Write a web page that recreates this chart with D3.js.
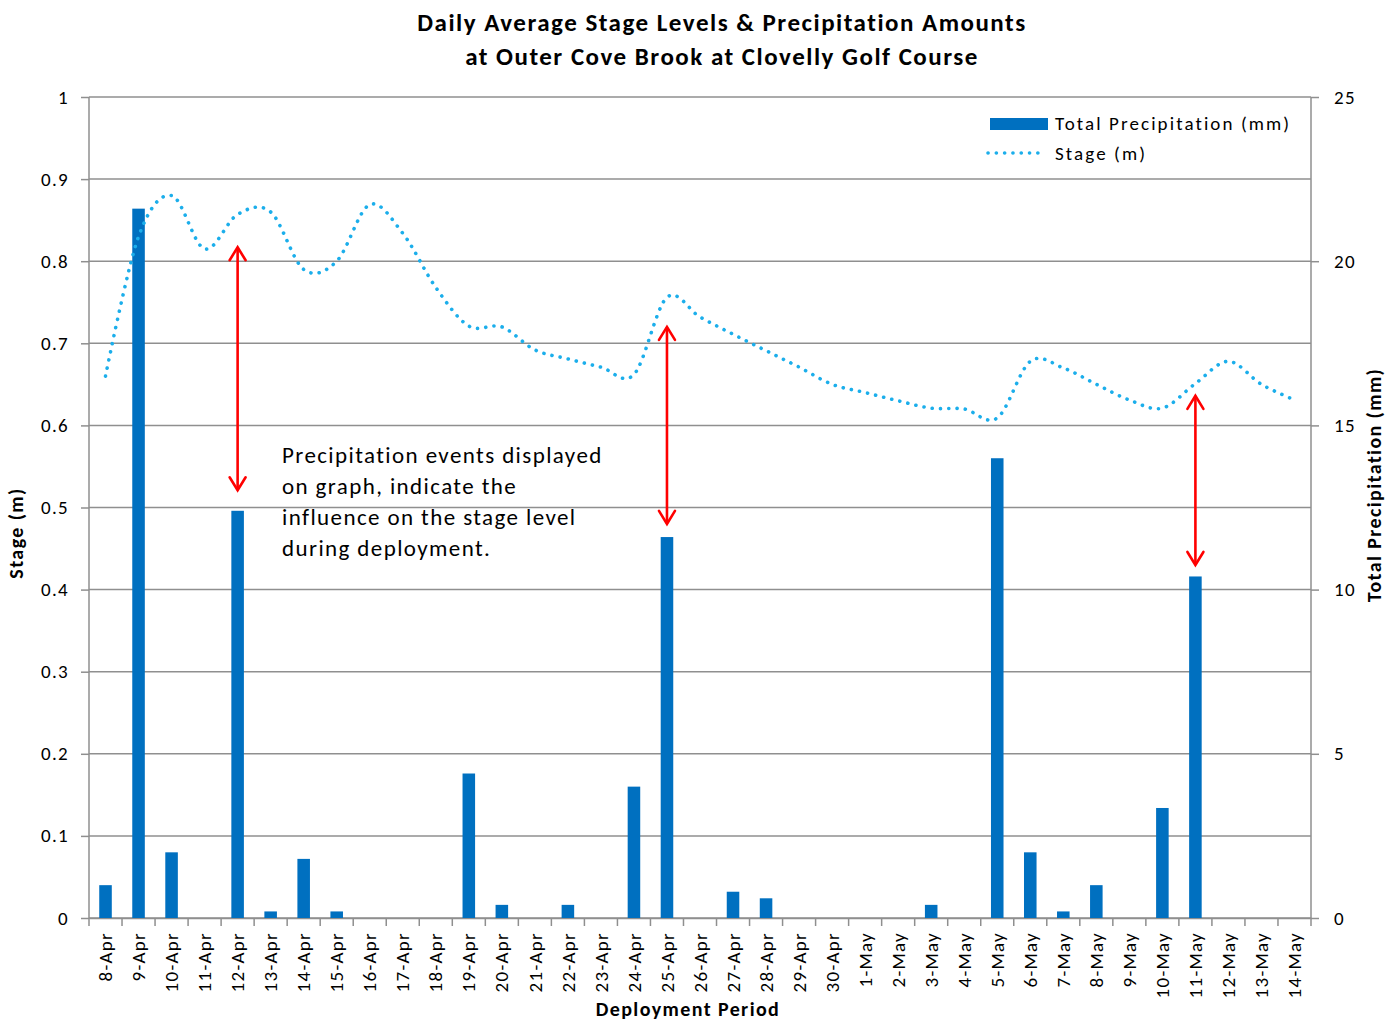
<!DOCTYPE html>
<html>
<head>
<meta charset="utf-8">
<script src="https://cdn.jsdelivr.net/npm/d3@7"></script>
<style>
  html, body { margin: 0; padding: 0; background: #fff; }
  svg { display: block; }
  text { font-family: Carlito, Calibri, Lato, "Open Sans", sans-serif; fill: #000; }
</style>
</head>
<body>
<script>
// Daily records, 8 April to 14 May
const days = ["8-Apr","9-Apr","10-Apr","11-Apr","12-Apr","13-Apr","14-Apr","15-Apr","16-Apr","17-Apr",
  "18-Apr","19-Apr","20-Apr","21-Apr","22-Apr","23-Apr","24-Apr","25-Apr","26-Apr","27-Apr","28-Apr",
  "29-Apr","30-Apr","1-May","2-May","3-May","4-May","5-May","6-May","7-May","8-May","9-May","10-May",
  "11-May","12-May","13-May","14-May"];

// Total precipitation per day (mm)
const precipitation = [1.0, 21.6, 2.0, 0, 12.4, 0.2, 1.8, 0.2, 0, 0,
  0, 4.4, 0.4, 0, 0.4, 0, 4.0, 11.6, 0, 0.8, 0.6,
  0, 0, 0, 0, 0.4, 0, 14.0, 2.0, 0.2, 1.0, 0, 3.35,
  10.4, 0, 0, 0];

// Daily average stage (m)
const stage = [0.660, 0.830, 0.880, 0.815, 0.857, 0.860, 0.790, 0.800, 0.869, 0.834,
  0.768, 0.721, 0.720, 0.692, 0.681, 0.671, 0.662, 0.756, 0.732, 0.711, 0.691,
  0.671, 0.650, 0.640, 0.630, 0.621, 0.620, 0.609, 0.678, 0.670, 0.650, 0.631, 0.621,
  0.651, 0.678, 0.650, 0.631];

const stageTicks = [0, 0.1, 0.2, 0.3, 0.4, 0.5, 0.6, 0.7, 0.8, 0.9, 1];
const precipTicks = [0, 5, 10, 15, 20, 25];

// Precipitation events marked with double arrows: day, stage at top, stage at bottom
const eventDays = ["12-Apr", "25-Apr", "11-May"];
const eventTop = [0.817, 0.720, 0.636];
const eventBottom = [0.521, 0.480, 0.430];

const noteLines = ["Precipitation events displayed", "on graph, indicate the",
  "influence on the stage level", "during deployment."];

const W = 1399, H = 1020;
const plotLeft = 89, plotRight = 1311, plotTop = 97, plotBottom = 918;

const svg = d3.select("body").append("svg").attr("width", W).attr("height", H);

const x = d3.scaleBand().domain(days).range([plotLeft, plotRight]).paddingInner(0).paddingOuter(0);
const yS = d3.scaleLinear().domain([0, 1]).range([plotBottom, plotTop]);
const yP = d3.scaleLinear().domain([0, 25]).range([plotBottom, plotTop]);

const gridColor = "#8f8f8f";

// horizontal gridlines
svg.append("g").selectAll("line").data(stageTicks).join("line")
  .attr("x1", plotLeft).attr("x2", plotRight)
  .attr("y1", d => yS(d)).attr("y2", d => yS(d))
  .attr("stroke", gridColor).attr("stroke-width", 1.5);

// left axis
const axL = svg.append("g").attr("transform", `translate(${plotLeft},0)`)
  .call(d3.axisLeft(yS).tickValues(stageTicks).tickFormat(d => String(d)).tickSize(8).tickPadding(12));
// right axis
const axR = svg.append("g").attr("transform", `translate(${plotRight},0)`)
  .call(d3.axisRight(yP).tickValues(precipTicks).tickFormat(d => String(d)).tickSize(8).tickPadding(15));
// bottom axis, ticks drawn separately between categories
const axB = svg.append("g").attr("transform", `translate(0,${plotBottom})`)
  .call(d3.axisBottom(x).tickSize(0).tickPadding(0));

[axL, axR, axB].forEach(g => {
  g.select(".domain").attr("stroke", gridColor).attr("stroke-width", 1.5);
  g.selectAll(".tick line").attr("stroke", gridColor).attr("stroke-width", 1.5);
  g.selectAll("text").style("font-size", "19px").style("letter-spacing", "1.3px").attr("fill", "#000");
});
axL.select(".domain").attr("d", `M0,${plotBottom}V${plotTop}`);
axR.select(".domain").attr("d", `M0,${plotBottom}V${plotTop}`);

axB.selectAll(".tick text")
  .attr("transform", "rotate(-90)")
  .attr("text-anchor", "end")
  .attr("dy", "0.35em")
  .attr("x", -14).attr("y", 0);

// category boundary ticks
const boundaries = days.map(d => x(d)).concat([plotRight]);
svg.append("g").selectAll("line").data(boundaries).join("line")
  .attr("x1", d => d).attr("x2", d => d)
  .attr("y1", plotBottom).attr("y2", plotBottom + 8)
  .attr("stroke", gridColor).attr("stroke-width", 1.5);

// precipitation bars
const barW = x.bandwidth() * 0.38;
svg.append("g").selectAll("rect").data(days.map((d, i) => ({ d, v: precipitation[i] })).filter(o => o.v > 0))
  .join("rect")
  .attr("x", o => x(o.d) + x.bandwidth() / 2 - barW / 2)
  .attr("width", barW)
  .attr("y", o => yP(o.v))
  .attr("height", o => plotBottom - yP(o.v))
  .attr("fill", "#0070C0");

// stage line, smoothed and dotted
const line = d3.line()
  .x((v, i) => x(days[i]) + x.bandwidth() / 2)
  .y(v => yS(v))
  .curve(d3.curveCardinal.tension(0));
svg.append("path").datum(stage)
  .attr("d", line)
  .attr("fill", "none")
  .attr("stroke", "#1BAEEB")
  .attr("stroke-width", 3.6)
  .attr("stroke-linecap", "round")
  .attr("stroke-dasharray", "0.1 8.2");

// event arrows
const arrows = svg.append("g").attr("stroke", "#FF0000").attr("stroke-width", 2.6).attr("fill", "none")
  .attr("stroke-linecap", "round").attr("stroke-linejoin", "miter");
eventDays.forEach((d, i) => {
  const cx = x(d) + x.bandwidth() / 2;
  const y1 = yS(eventTop[i]), y2 = yS(eventBottom[i]);
  arrows.append("line").attr("x1", cx).attr("x2", cx).attr("y1", y1 + 1).attr("y2", y2 - 1);
  arrows.append("path").attr("d", `M${cx - 8},${y1 + 13}L${cx},${y1}L${cx + 8},${y1 + 13}`);
  arrows.append("path").attr("d", `M${cx - 8},${y2 - 13}L${cx},${y2}L${cx + 8},${y2 - 13}`);
});

// annotation
svg.append("g").selectAll("text").data(noteLines).join("text")
  .attr("x", 282).attr("y", (d, i) => 463 + i * 31)
  .style("font-size", "23px")
  .style("letter-spacing", "1.4px")
  .attr("fill", "#000")
  .text(d => d);

// titles
const title = svg.append("g").attr("text-anchor", "middle").style("font-weight", "bold")
  .style("font-size", "25px").style("letter-spacing", "1.5px");
title.append("text").attr("x", 722).attr("y", 31).text("Daily Average Stage Levels & Precipitation Amounts");
title.append("text").attr("x", 722).attr("y", 65).text("at Outer Cove Brook at Clovelly Golf Course");

const axisTitle = (sel) => sel.attr("text-anchor", "middle").style("font-weight", "bold")
  .style("font-size", "20px").style("letter-spacing", "1.4px");
svg.append("text").call(axisTitle)
  .attr("transform", "translate(23,533) rotate(-90)").text("Stage (m)");
svg.append("text").call(axisTitle)
  .attr("transform", "translate(1381,485) rotate(-90)").text("Total Precipitation (mm)");
svg.append("text").call(axisTitle)
  .attr("x", 688).attr("y", 1016).text("Deployment Period");

// legend
const lg = svg.append("g");
lg.append("rect").attr("x", 990).attr("y", 118).attr("width", 58).attr("height", 12).attr("fill", "#0070C0");
lg.append("text").attr("x", 1055).attr("y", 130).style("font-size", "19px").style("letter-spacing", "2.1px")
  .text("Total Precipitation (mm)");
lg.append("line").attr("x1", 988).attr("x2", 1046).attr("y1", 153).attr("y2", 153)
  .attr("stroke", "#1BAEEB").attr("stroke-width", 3.6).attr("stroke-linecap", "round")
  .attr("stroke-dasharray", "0.1 8.2");
lg.append("text").attr("x", 1055).attr("y", 160).style("font-size", "19px").style("letter-spacing", "2.1px")
  .text("Stage (m)");
</script>
</body>
</html>
